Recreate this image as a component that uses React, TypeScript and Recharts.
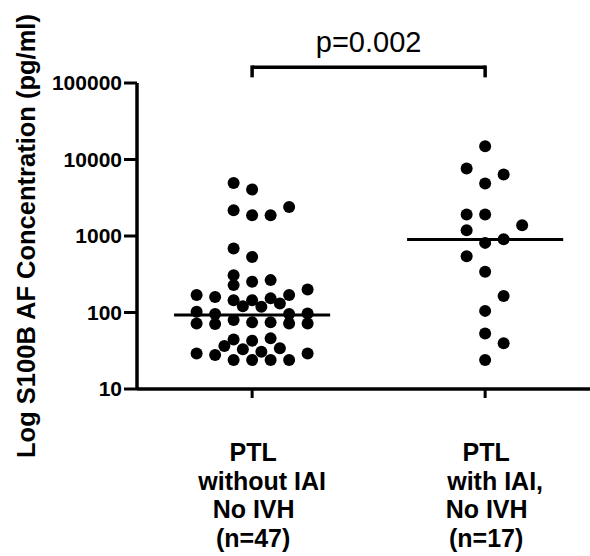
import { ScatterChart, Scatter, XAxis, YAxis, ReferenceLine } from 'recharts';

const groups = [1, 2];
const groupLabels = [
  ['PTL', 'without IAI', 'No IVH', '(n=47)'],
  ['PTL', 'with IAI,', 'No IVH', '(n=17)'],
];
const yTicks = [10, 100, 1000, 10000, 100000];

// PTL without IAI, no IVH (pg/ml) and the column slot of each dot
const noIaiValues = [
  4935, 4046, 2172, 1869, 1869, 2399, 687, 533, 308, 228, 252, 265, 200, 169, 160, 169,
  145, 145, 153, 121, 119, 131.5, 102, 95.3, 95.3, 97.3, 72, 70.6, 79.6, 74.3, 74.3, 72,
  72, 44.5, 42.7, 45.9, 36.4, 33, 30.7, 34, 29.2, 27.8, 29.2, 23.9, 23.9, 23.9, 23.9,
];
const noIaiSlots = [
  -1, 0, -1, 0, 1, 2, -1, 0, -1, -1, 0, 1, 3, -3, -2, 2,
  -1, 0, 1, -0.5, 0.5, 1.5, -3, -2, 2, 3, -3, -2, -1, 0, 1, 2,
  3, -1, 0, 1, -1.5, -0.5, 0.5, 1.5, -3, -2, 3, -1, 0, 1, 2,
];

// PTL with IAI, no IVH
const iaiValues = [14870, 7605, 6350, 4845, 1908, 1908, 1384, 1191, 813, 908, 545, 340, 164, 105, 53.3, 39.5, 23.9];
const iaiSlots = [0, -1, 1, 0, -1, 0, 2, -1, 0, 1, -1, 0, 1, 0, 0, 1, 0];

const medians = [92.5, 900];
const pValue = 'p=0.002';

const SLOT = 0.0794;
const HALF = 0.335;
const FONT = '"Liberation Sans", Arial, Helvetica, sans-serif';

const toPoints = (vals: number[], slots: number[], g: number) =>
  vals.map((v, i) => ({ x: g + slots[i] * SLOT, y: v }));

const noIaiData = toPoints(noIaiValues, noIaiSlots, groups[0]);
const iaiData = toPoints(iaiValues, iaiSlots, groups[1]);

const lineShift = [1, 10, 1.5, 1];

const Dot = (p: any) => <circle cx={p.cx} cy={p.cy} r={6} fill="#000" />;

const GroupTick = (props: any) => {
  const { x, y, payload } = props;
  const lines = groupLabels[groups.indexOf(payload.value)] || [];
  return (
    <g>
      {lines.map((t, i) => (
        <text
          key={i}
          x={x + lineShift[i]}
          y={y + 61 + i * 28.7}
          textAnchor="middle"
          fontFamily={FONT}
          fontWeight="bold"
          fontSize={25}
          fill="#000"
        >
          {t}
        </text>
      ))}
    </g>
  );
};

const YLabel = () => (
  <text
    transform="translate(35,236) rotate(-90)"
    textAnchor="middle"
    fontFamily={FONT}
    fontWeight="bold"
    fontSize={25.5}
    fill="#000"
  >
    Log S100B AF Concentration (pg/ml)
  </text>
);

export default function App() {
  const bracketTop = 161000;
  const bracketFoot = 125000;
  return (
    <div style={{ position: 'absolute', left: 0, top: 0, background: '#fff' }}>
      <ScatterChart width={590} height={556} margin={{ top: 83, right: 0, bottom: 0, left: 0 }}>
        <XAxis
          type="number"
          dataKey="x"
          domain={[0.506, 2.45]}
          ticks={groups}
          allowDataOverflow
          height={167}
          tickSize={9}
          axisLine={{ stroke: '#000', strokeWidth: 3.5 }}
          tickLine={{ stroke: '#000', strokeWidth: 3 }}
          tick={<GroupTick />}
        />
        <YAxis
          type="number"
          dataKey="y"
          scale="log"
          domain={[10, 100000]}
          ticks={yTicks}
          allowDataOverflow
          width={137}
          tickSize={13}
          axisLine={{ stroke: '#000', strokeWidth: 3.5 }}
          tickLine={{ stroke: '#000', strokeWidth: 3 }}
          tick={{ fill: '#000', fontFamily: FONT, fontWeight: 'bold', fontSize: 21 }}
          label={<YLabel />}
        />
        <Scatter data={noIaiData} shape={Dot} isAnimationActive={false} />
        <Scatter data={iaiData} shape={Dot} isAnimationActive={false} />
        {groups.map((g, i) => (
          <ReferenceLine
            key={'m' + g}
            segment={[{ x: g - HALF, y: medians[i] }, { x: g + HALF, y: medians[i] }]}
            stroke="#000"
            strokeWidth={3}
            ifOverflow="visible"
          />
        ))}
        <ReferenceLine
          segment={[{ x: groups[0], y: bracketTop }, { x: groups[1], y: bracketTop }]}
          stroke="#000"
          strokeWidth={3.5}
          ifOverflow="visible"
          label={{ value: pValue, position: 'top', offset: 15, fill: '#000', fontFamily: FONT, fontSize: 29 }}
        />
        {groups.map((g) => (
          <ReferenceLine
            key={'b' + g}
            segment={[{ x: g, y: bracketTop }, { x: g, y: bracketFoot }]}
            stroke="#000"
            strokeWidth={3.5}
            strokeLinecap="square"
            ifOverflow="visible"
          />
        ))}
      </ScatterChart>
    </div>
  );
}
